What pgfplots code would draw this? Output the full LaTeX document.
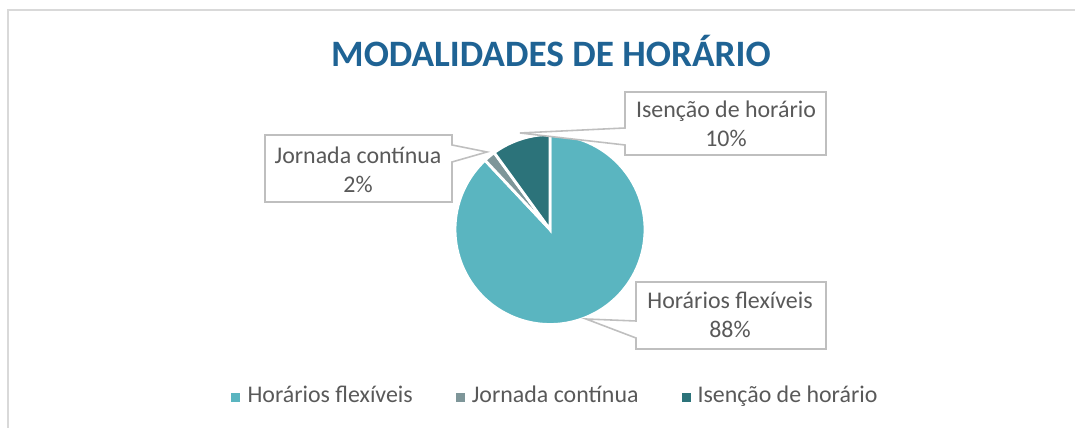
\documentclass[border=0pt]{standalone}
\usepackage{pgfplots}
\pgfplotsset{compat=1.18}
\usepackage{pgfplotstable}
\usepackage{fontspec}
\setmainfont{Carlito}
\definecolor{cA}{HTML}{5AB5C0}
\definecolor{cB}{HTML}{7E9699}
\definecolor{cC}{HTML}{2C737A}
\definecolor{ctitle}{HTML}{1F6394}
\definecolor{ctext}{HTML}{595959}
\definecolor{cbox}{HTML}{BFBFBF}
\definecolor{cframe}{HTML}{D9D9D9}
\pgfplotstableread{
name value
A 88
B 2
C 10
}\pietable
\newcommand\lblfont{\fontsize{6.8}{8}\selectfont\color{ctext}}
\begin{document}
\begin{tikzpicture}
\pgfplotstablegetelem{0}{value}\of\pietable \let\vA\pgfplotsretval
\pgfplotstablegetelem{1}{value}\of\pietable \let\vB\pgfplotsretval
\pgfplotstablegetelem{2}{value}\of\pietable \let\vC\pgfplotsretval
\pgfmathsetmacro\aA{90-3.6*\vA}
\pgfmathsetmacro\aB{\aA-3.6*\vB}
\pgfmathsetmacro\aC{\aB-3.6*\vC}
\begin{axis}[width=10.75cm,height=4.28cm,scale only axis,
  xmin=0,xmax=1075,ymin=0,ymax=428,y dir=reverse,
  hide axis, clip=false,
  legend columns=3,
  legend style={at={(axis cs:558,397)},anchor=center,draw=none,fill=none,
    font=\lblfont,
    /tikz/every even column/.append style={column sep=0.36cm}},
  legend image code/.code={\fill[#1,draw=none] (0cm,-0.045cm) rectangle (0.09cm,0.045cm);},
]
% outer frame (top and left only)
\draw[cframe,line width=0.5pt] (axis cs:8,428) -- (axis cs:8,10) -- (axis cs:1075,10);
\node[font=\fontsize{10.6}{12}\selectfont\bfseries,text=ctitle,anchor=base,inner sep=0pt] at (axis cs:551,67) {MODALIDADES DE HORÁRIO};
\addplot[fill=cA, draw=white, line width=0.8pt, domain=\aA:90, samples=120, variable=\t]
  ({550+95*cos(\t)},{229.5-95*sin(\t)}) -- (axis cs:550,229.5) -- cycle;
\addlegendentry{Horários flexíveis}
\addplot[fill=cB, draw=white, line width=0.8pt, domain=\aB:\aA, samples=10, variable=\t]
  ({550+95*cos(\t)},{229.5-95*sin(\t)}) -- (axis cs:550,229.5) -- cycle;
\addlegendentry{Jornada contínua}
\addplot[fill=cC, draw=white, line width=0.8pt, domain=\aC:\aB, samples=30, variable=\t]
  ({550+95*cos(\t)},{229.5-95*sin(\t)}) -- (axis cs:550,229.5) -- cycle;
\addlegendentry{Isenção de horário}
% callouts
\draw[cbox,fill=white,line width=0.45pt] (axis cs:625,92) -- (axis cs:826,92) -- (axis cs:826,155) -- (axis cs:625,155) -- (axis cs:625,145) -- (axis cs:520,133) -- (axis cs:625,128) -- cycle;
\draw[cbox,fill=white,line width=0.45pt] (axis cs:265,135) -- (axis cs:452,135) -- (axis cs:452,145) -- (axis cs:487,152) -- (axis cs:452,162) -- (axis cs:452,202) -- (axis cs:265,202) -- cycle;
\draw[cbox,fill=white,line width=0.45pt] (axis cs:636,282) -- (axis cs:826,282) -- (axis cs:826,349) -- (axis cs:636,349) -- (axis cs:636,338) -- (axis cs:586,319) -- (axis cs:636,321) -- cycle;
\node[font=\lblfont,anchor=base,inner sep=0pt] at (axis cs:726,118) {Isenção de horário};
\node[font=\lblfont,anchor=base,inner sep=0pt] at (axis cs:726,147) {10\%};
\node[font=\lblfont,anchor=base,inner sep=0pt] at (axis cs:358,164) {Jornada contínua};
\node[font=\lblfont,anchor=base,inner sep=0pt] at (axis cs:358,193) {2\%};
\node[font=\lblfont,anchor=base,inner sep=0pt] at (axis cs:730,309) {Horários flexíveis};
\node[font=\lblfont,anchor=base,inner sep=0pt] at (axis cs:730,338) {88\%};
\end{axis}
\pgfresetboundingbox
\path (0,0) rectangle (10.75cm,4.28cm);
\end{tikzpicture}
\end{document}
